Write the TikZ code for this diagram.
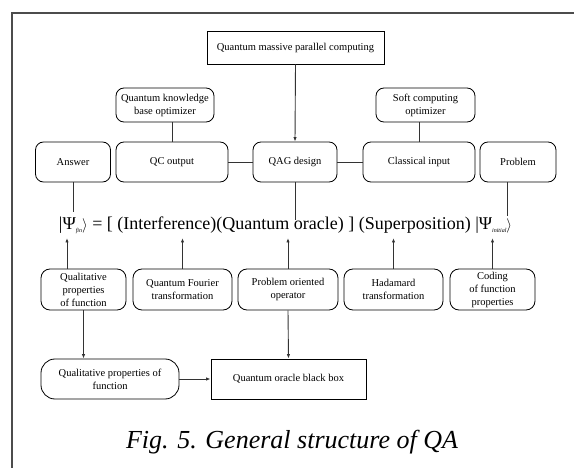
\documentclass[tikz,border=0pt]{standalone}
\usepackage{fontspec}
\setmainfont{Liberation Serif}
\usetikzlibrary{arrows.meta}
\newcommand\tinysub[1]{\raisebox{-2.5pt}{\fontsize{6}{6}\selectfont\itshape #1}}
\newcommand\ketend{\raisebox{0.3pt}{\fontsize{15.5}{16}\selectfont$\rangle$}}
\begin{document}
\begin{tikzpicture}[x=1pt,y=-1pt,
  box/.style={draw, line width=0.8pt, inner sep=0pt, align=center,
    font=\fontsize{10.5}{13}\selectfont},
  rbox/.style={box, rounded corners=8pt},
  link/.style={draw=black!80, line width=0.9pt},
  arr/.style={link, -{Latex[length=4.5pt,width=3.4pt]}}]
\useasboundingbox (0,0) rectangle (574,468);
% frame
\draw[line width=1.3pt, black!70] (12,468) -- (12,13) -- (574,13);

% top level
\node[box, minimum width=177pt, minimum height=33pt] (qmpc) at (295.5,47.5) {Quantum massive parallel computing};
\node[rbox, minimum width=98pt, minimum height=34pt] (qkb) at (165,105) {Quantum knowledge\\base optimizer};
\node[rbox, minimum width=99pt, minimum height=34pt] (sco) at (425.5,105) {Soft computing\\optimizer};

% middle row
\node[rbox, minimum width=75pt, minimum height=40pt] (ans) at (73,162) {Answer};
\node[rbox, minimum width=112pt, minimum height=40pt] (qco) at (172,162) {QC output};
\node[rbox, minimum width=84pt, minimum height=40pt] (qag) at (295,162) {QAG design};
\node[rbox, minimum width=112pt, minimum height=40pt] (cin) at (419,162) {Classical input};
\node[rbox, minimum width=76pt, minimum height=40pt] (prb) at (518,162) {Problem};

% equation
\node[anchor=base, inner sep=0pt, font=\fontsize{18}{20}\selectfont] (eq) at (285.5,230)
  {|Ψ\tinysub{fin}\ketend{} = [ (Interference)(Quantum oracle) ] (Superposition) |Ψ\tinysub{initial}\ketend};

% lower row
\node[rbox, rounded corners=9pt, minimum width=85pt, minimum height=41pt] (qual) at (83.5,289.5) {Qualitative\\properties\\of function};
\node[rbox, rounded corners=9pt, minimum width=99pt, minimum height=41pt] (qft) at (182.5,289.5) {Quantum Fourier\\transformation};
\node[rbox, rounded corners=9pt, minimum width=100pt, minimum height=41pt] (poo) at (288,289.5) {Problem oriented\\operator};
\node[rbox, rounded corners=9pt, minimum width=99pt, minimum height=41pt] (had) at (393.5,289.5) {Hadamard\\transformation};
\node[rbox, rounded corners=9pt, minimum width=85pt, minimum height=41pt] (cod) at (492.5,289.5) {Coding\\of function\\properties};

% bottom
\node[rbox, rounded corners=14pt, minimum width=138pt, minimum height=40pt] (qpf) at (110,379) {Qualitative properties of\\function};
\node[box, minimum width=155pt, minimum height=40pt] (qob) at (288.5,379) {Quantum oracle black box};

% line ends at the equation
\coordinate (ansend) at (73,212);
\coordinate (qagend) at (295,220);
\coordinate (prbend) at (507,216);
\coordinate (t1) at (67,238);
\coordinate (t2) at (182.5,238);
\coordinate (t3) at (288,238);
\coordinate (t4) at (393.5,238);
\coordinate (t5) at (492.5,238);

% connectors
\draw[arr] (qmpc.south) -- (qag.north);
\draw[link] (qco.north) -- (qco.north |- qkb.south);
\draw[link] (cin.north) -- (cin.north |- sco.south);
\draw[link] (qco.east) -- (qag.west);
\draw[link] (qag.east) -- (cin.west);
\draw[link] (ans.south) -- (ansend);
\draw[link] (qag.south) -- (qagend);
\draw[link] (prb.south -| prbend) -- (prbend);
\draw[arr] (qual.north -| t1) -- (t1);
\draw[arr] (qft.north) -- (t2);
\draw[arr] (poo.north) -- (t3);
\draw[arr] (had.north) -- (t4);
\draw[arr] (cod.north) -- (t5);
\draw[arr] (qual.south) -- (qual.south |- qpf.north);
\draw[arr] (poo.south) -- (qob.north);
\draw[arr] (qpf.east) -- (qob.west);

% caption
\node[anchor=base, inner sep=0pt, font=\fontsize{26}{30}\selectfont\itshape] (cap) at (292,449) {Fig. 5. General structure of QA};
\end{tikzpicture}
\end{document}
